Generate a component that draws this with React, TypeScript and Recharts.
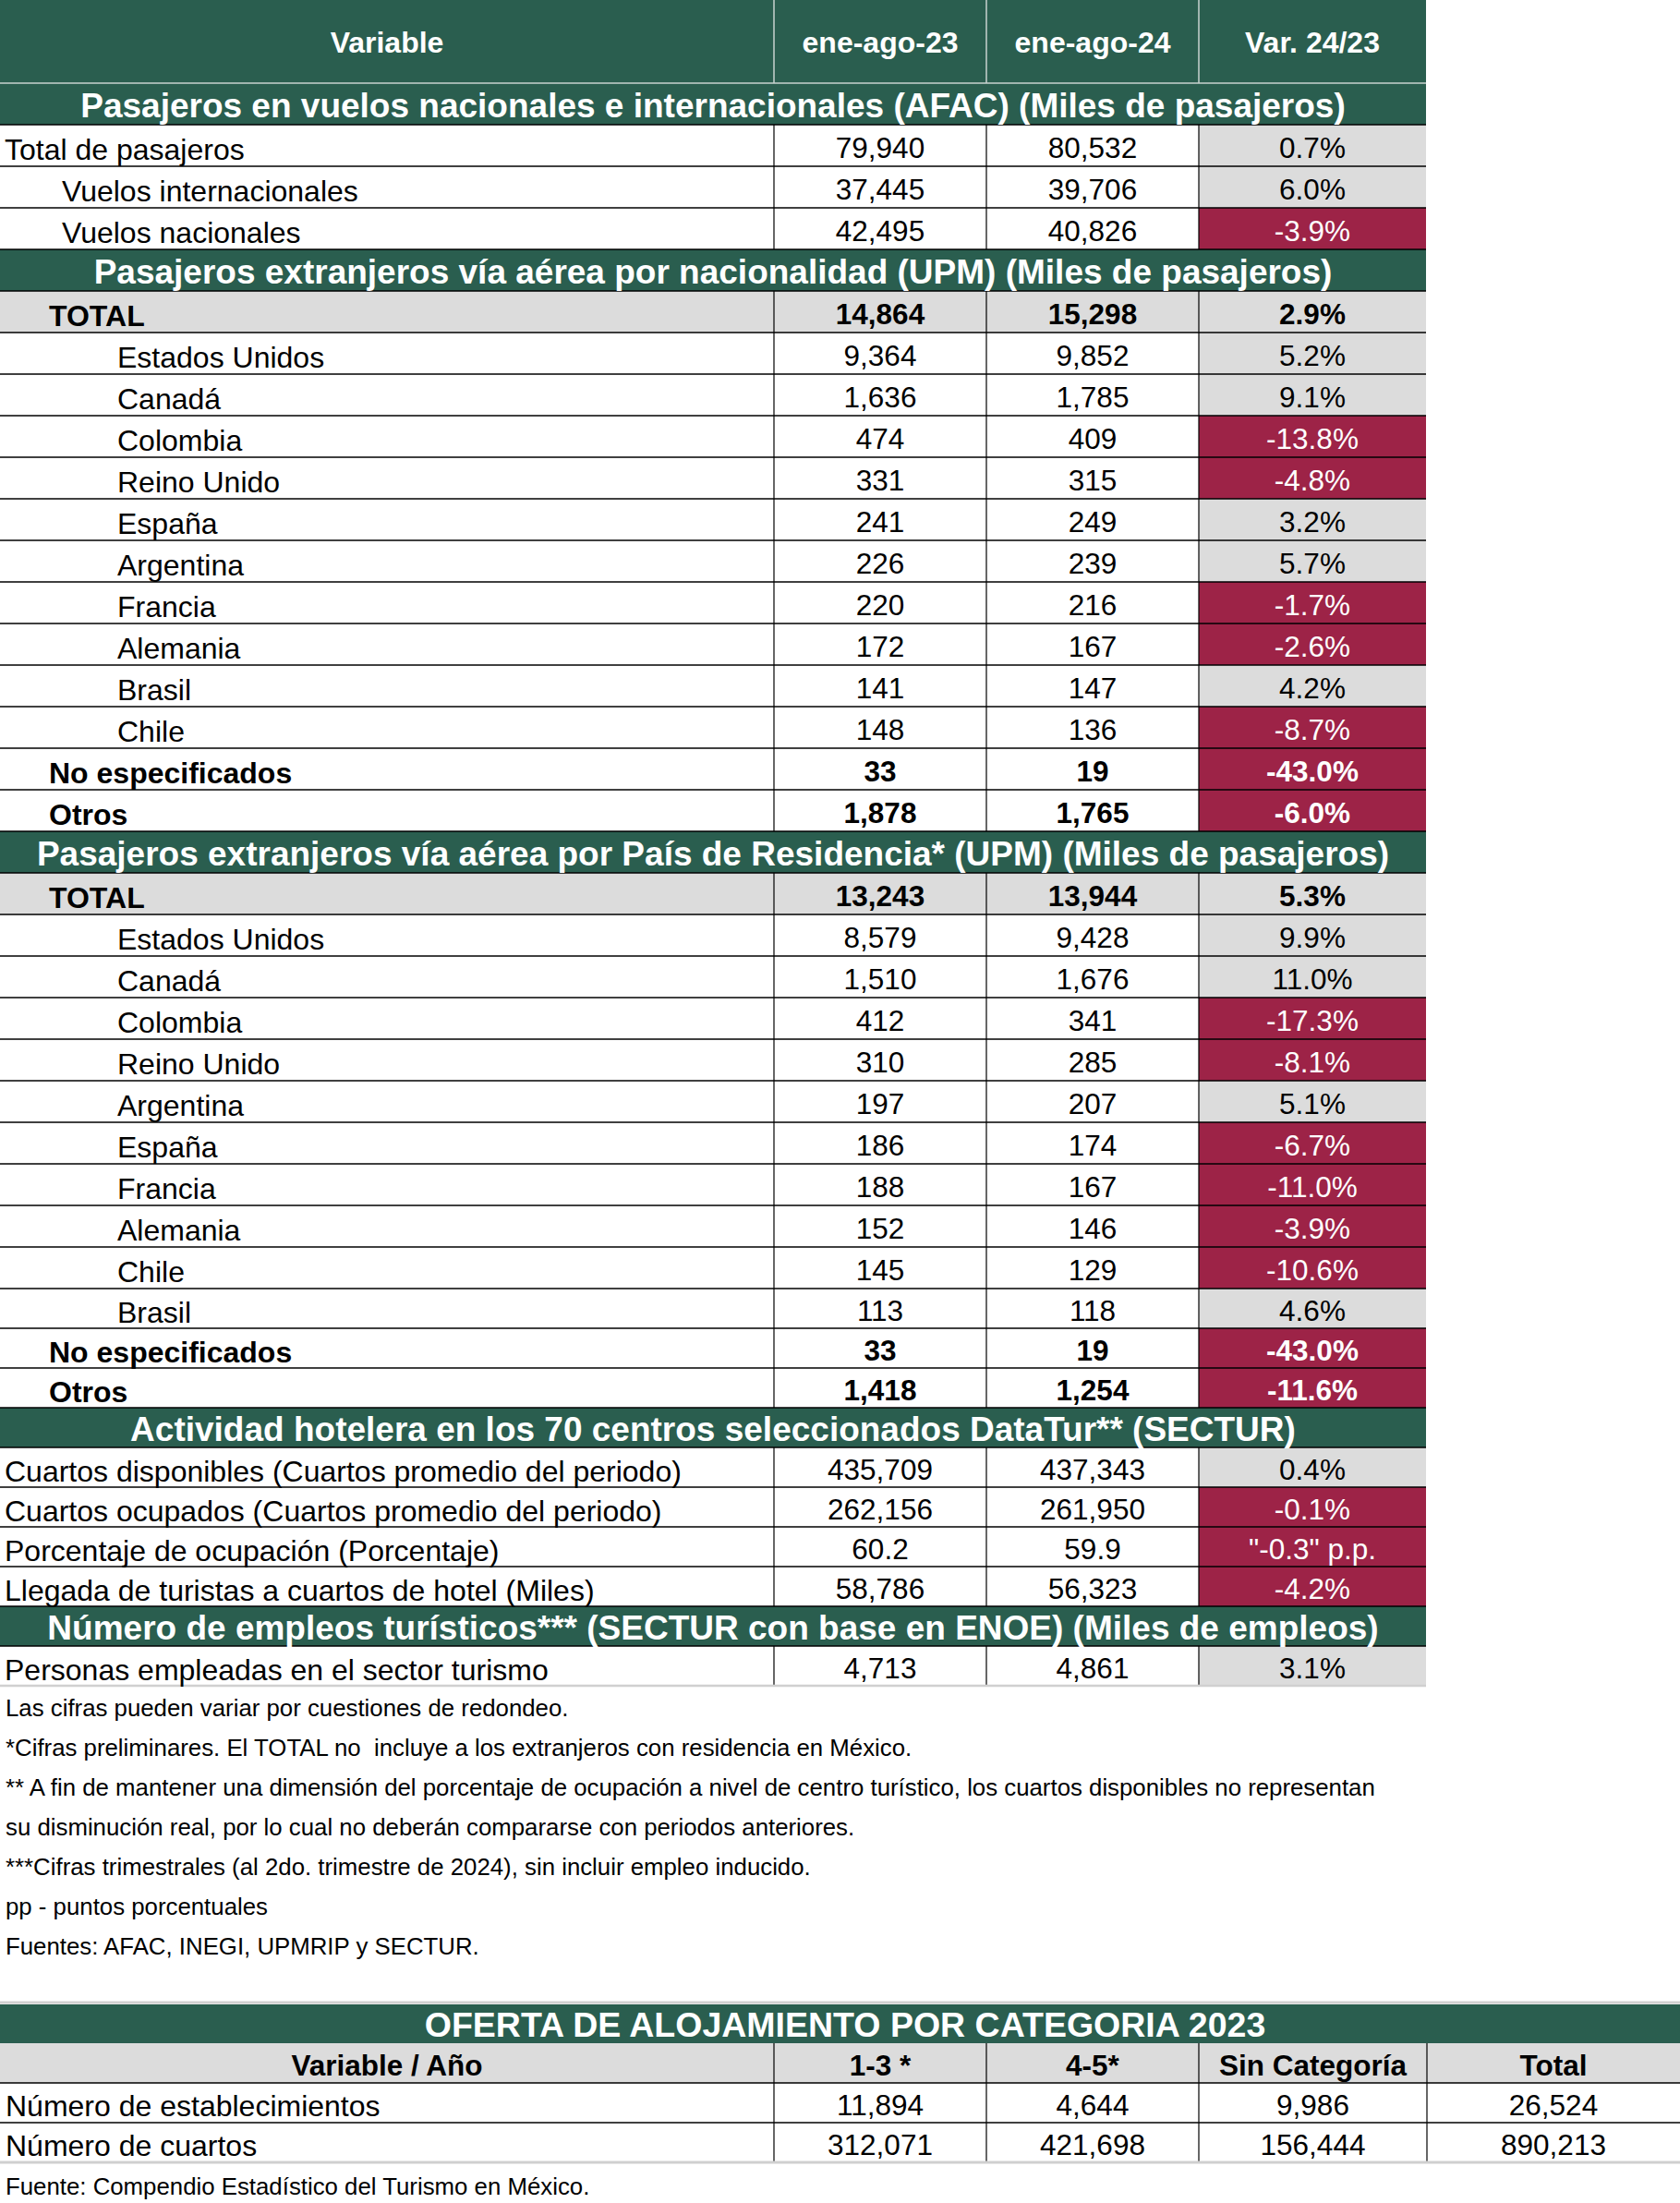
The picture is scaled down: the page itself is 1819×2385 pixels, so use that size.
import React from 'react';
import { Surface, Layer, Rectangle, Text } from 'recharts';

const GREEN = '#2A5E4F';
const RED = '#9D2347';
const GRAY = '#DCDCDC';
const FONT = '"Liberation Sans", Arial, sans-serif';

const headerLabels = ['Variable', 'ene-ago-23', 'ene-ago-24', 'Var. 24/23'];

const sec1Title = 'Pasajeros en vuelos nacionales e internacionales (AFAC) (Miles de pasajeros)';
const sec1Labels = ['Total de pasajeros', 'Vuelos internacionales', 'Vuelos nacionales'];
const sec1Y23 = [79940, 37445, 42495];
const sec1Y24 = [80532, 39706, 40826];
const sec1Var = [0.7, 6.0, -3.9];
const sec1Kind = ['l0', 'l1', 'l1'];

const sec2Title = 'Pasajeros extranjeros vía aérea por nacionalidad (UPM) (Miles de pasajeros)';
const sec2Labels = ['TOTAL', 'Estados Unidos', 'Canadá', 'Colombia', 'Reino Unido', 'España', 'Argentina', 'Francia', 'Alemania', 'Brasil', 'Chile', 'No especificados', 'Otros'];
const sec2Y23 = [14864, 9364, 1636, 474, 331, 241, 226, 220, 172, 141, 148, 33, 1878];
const sec2Y24 = [15298, 9852, 1785, 409, 315, 249, 239, 216, 167, 147, 136, 19, 1765];
const sec2Var = [2.9, 5.2, 9.1, -13.8, -4.8, 3.2, 5.7, -1.7, -2.6, 4.2, -8.7, -43.0, -6.0];

const sec3Title = 'Pasajeros extranjeros vía aérea por País de Residencia* (UPM) (Miles de pasajeros)';
const sec3Labels = ['TOTAL', 'Estados Unidos', 'Canadá', 'Colombia', 'Reino Unido', 'Argentina', 'España', 'Francia', 'Alemania', 'Chile', 'Brasil', 'No especificados', 'Otros'];
const sec3Y23 = [13243, 8579, 1510, 412, 310, 197, 186, 188, 152, 145, 113, 33, 1418];
const sec3Y24 = [13944, 9428, 1676, 341, 285, 207, 174, 167, 146, 129, 118, 19, 1254];
const sec3Var = [5.3, 9.9, 11.0, -17.3, -8.1, 5.1, -6.7, -11.0, -3.9, -10.6, 4.6, -43.0, -11.6];

const countryKind = ['total', 'l2', 'l2', 'l2', 'l2', 'l2', 'l2', 'l2', 'l2', 'l2', 'l2', 'bold', 'bold'];

const sec4Title = 'Actividad hotelera en los 70 centros seleccionados DataTur** (SECTUR)';
const sec4Labels = ['Cuartos disponibles (Cuartos promedio del periodo)', 'Cuartos ocupados (Cuartos promedio del periodo)', 'Porcentaje de ocupación (Porcentaje)', 'Llegada de turistas a cuartos de hotel (Miles)'];
const sec4Y23 = [435709, 262156, 60.2, 58786];
const sec4Y24 = [437343, 261950, 59.9, 56323];
const sec4Var = [0.4, -0.1, -0.3, -4.2];
const sec4Unit = ['%', '%', 'pp', '%'];

const sec5Title = 'Número de empleos turísticos*** (SECTUR con base en ENOE) (Miles de empleos)';
const sec5Labels = ['Personas empleadas en el sector turismo'];
const sec5Y23 = [4713];
const sec5Y24 = [4861];
const sec5Var = [3.1];

const footnotes = [
  'Las cifras pueden variar por cuestiones de redondeo.',
  '*Cifras preliminares. El TOTAL no  incluye a los extranjeros con residencia en México.',
  '** A fin de mantener una dimensión del porcentaje de ocupación a nivel de centro turístico, los cuartos disponibles no representan',
  'su disminución real, por lo cual no deberán compararse con periodos anteriores.',
  '***Cifras trimestrales (al 2do. trimestre de 2024), sin incluir empleo inducido.',
  'pp - puntos porcentuales',
  'Fuentes: AFAC, INEGI, UPMRIP y SECTUR.',
];

const ofertaTitle = 'OFERTA DE ALOJAMIENTO POR CATEGORIA 2023';
const ofertaHeaders = ['Variable / Año', '1-3 *', '4-5*', 'Sin Categoría', 'Total'];
const ofertaLabels = ['Número de establecimientos', 'Número de cuartos'];
const oferta13 = [11894, 312071];
const oferta45 = [4644, 421698];
const ofertaSin = [9986, 156444];
const ofertaTotal = [26524, 890213];
const ofertaSource = 'Fuente: Compendio Estadístico del Turismo en México.';

// layout
const W = 1819;
const H = 2385;
const TW = 1544;
const COLS = [0, 838, 1068, 1298, TW];
const OCOLS = [0, 838, 1068, 1298, 1545, W];
const INDENT: Record<string, number> = { l0: 5, l1: 67, l2: 127, total: 53, bold: 53 };
const LABEL_FS = 32;
const DATA_FS = 31.5;
const TITLE_FS = 37;
const NOTE_FS = 25.8;

const fmtNum = (n: number) => (Number.isInteger(n) ? n.toLocaleString('en-US') : n.toFixed(1));
const fmtVar = (v: number, unit = '%') => (unit === 'pp' ? `"${v.toFixed(1)}" p.p.` : `${v.toFixed(1)}%`);
const keepSpaces = (s: string) => s.replace(/ {2}/g, '\u00A0 ');

type Row =
  | { type: 'band'; title: string }
  | { type: 'data'; kind: string; label: string; a: number; b: number; v: number; unit: string };

function buildRows(): Row[] {
  const rows: Row[] = [];
  const addSec = (title: string, labels: string[], a: number[], b: number[], v: number[], kinds: string[], units?: string[]) => {
    rows.push({ type: 'band', title });
    labels.forEach((l, i) =>
      rows.push({ type: 'data', kind: kinds[i], label: l, a: a[i], b: b[i], v: v[i], unit: units ? units[i] : '%' })
    );
  };
  addSec(sec1Title, sec1Labels, sec1Y23, sec1Y24, sec1Var, sec1Kind);
  addSec(sec2Title, sec2Labels, sec2Y23, sec2Y24, sec2Var, countryKind);
  addSec(sec3Title, sec3Labels, sec3Y23, sec3Y24, sec3Var, countryKind);
  addSec(sec4Title, sec4Labels, sec4Y23, sec4Y24, sec4Var, sec4Labels.map(() => 'l0'), sec4Unit);
  addSec(sec5Title, sec5Labels, sec5Y23, sec5Y24, sec5Var, ['l0']);
  return rows;
}

const T = (props: any) => <Text fontFamily={FONT} verticalAnchor="middle" {...props} />;

export default function App() {
  const rows = buildRows();
  const fills: React.ReactNode[] = [];
  const lines: React.ReactNode[] = [];
  const texts: React.ReactNode[] = [];
  const HEADER_H = 90;

  // header
  fills.push(<Rectangle key="hdr" x={0} y={0} width={TW} height={HEADER_H} fill={GREEN} />);
  headerLabels.forEach((h, i) => {
    texts.push(
      <T key={'h' + i} x={(COLS[i] + COLS[i + 1]) / 2} y={HEADER_H / 2 + 1} textAnchor="middle" fontSize={32} fontWeight="bold" fill="#fff">
        {h}
      </T>
    );
    if (i > 0) lines.push(<line key={'hl' + i} x1={COLS[i]} x2={COLS[i]} y1={0} y2={HEADER_H} stroke="#C9D3CF" strokeWidth={1.5} />);
  });
  lines.push(<line key="hb" x1={0} x2={TW} y1={HEADER_H} y2={HEADER_H} stroke="#C9D3CF" strokeWidth={1.5} />);

  let y = HEADER_H;
  rows.forEach((r, idx) => {
    const h = idx < 29 ? 45 : 43;
    const cy = y + h / 2;
    if (r.type === 'band') {
      fills.push(<Rectangle key={'b' + idx} x={0} y={y} width={TW} height={h} fill={GREEN} />);
      texts.push(
        <T key={'bt' + idx} x={TW / 2} y={cy + 1} textAnchor="middle" fontSize={TITLE_FS} fontWeight="bold" fill="#fff">
          {r.title}
        </T>
      );
      if (idx > 0) lines.push(<line key={'bl' + idx} x1={0} x2={TW} y1={y} y2={y} stroke="#000" strokeWidth={1.5} />);
    } else {
      const bold = r.kind === 'total' || r.kind === 'bold';
      if (r.kind === 'total') fills.push(<Rectangle key={'tf' + idx} x={0} y={y} width={TW} height={h} fill={GRAY} />);
      const neg = r.v < 0;
      fills.push(<Rectangle key={'vf' + idx} x={COLS[3]} y={y} width={COLS[4] - COLS[3]} height={h} fill={neg ? RED : GRAY} />);
      const w = bold ? 'bold' : 'normal';
      texts.push(
        <T key={'l' + idx} x={INDENT[r.kind]} y={cy + 4} textAnchor="start" fontSize={LABEL_FS} fontWeight={w} fill="#000">
          {r.label}
        </T>
      );
      texts.push(
        <T key={'a' + idx} x={(COLS[1] + COLS[2]) / 2} y={cy + 2} textAnchor="middle" fontSize={DATA_FS} fontWeight={w} fill="#000">
          {fmtNum(r.a)}
        </T>
      );
      texts.push(
        <T key={'c' + idx} x={(COLS[2] + COLS[3]) / 2} y={cy + 2} textAnchor="middle" fontSize={DATA_FS} fontWeight={w} fill="#000">
          {fmtNum(r.b)}
        </T>
      );
      texts.push(
        <T key={'v' + idx} x={(COLS[3] + COLS[4]) / 2} y={cy + 2} textAnchor="middle" fontSize={DATA_FS} fontWeight={w} fill={neg ? '#fff' : '#000'}>
          {fmtVar(r.v, r.unit)}
        </T>
      );
      [1, 2, 3].forEach((c) =>
        lines.push(<line key={'vl' + idx + '-' + c} x1={COLS[c]} x2={COLS[c]} y1={y} y2={y + h} stroke="#000" strokeWidth={1.2} />)
      );
      lines.push(<line key={'rl' + idx} x1={0} x2={TW} y1={y} y2={y} stroke="#000" strokeWidth={1.5} />);
    }
    y += h;
  });
  lines.push(<line key="tb" x1={0} x2={TW} y1={y} y2={y} stroke="#D0D0D0" strokeWidth={2.5} />);

  // footnotes
  footnotes.forEach((f, i) =>
    texts.push(
      <T key={'f' + i} x={6} y={y + 24 + i * 43} textAnchor="start" fontSize={NOTE_FS} fill="#000">
        {keepSpaces(f)}
      </T>
    )
  );

  // oferta table
  const oy = 2168;
  lines.push(<line key="ot" x1={0} x2={W} y1={oy} y2={oy} stroke="#D0D0D0" strokeWidth={3} />);
  fills.push(<Rectangle key="of" x={0} y={oy + 2} width={W} height={42} fill={GREEN} />);
  texts.push(
    <T key="otitle" x={915} y={oy + 24} textAnchor="middle" fontSize={37.5} fontWeight="bold" fill="#fff">
      {ofertaTitle}
    </T>
  );
  const hy = oy + 44;
  fills.push(<Rectangle key="ohf" x={0} y={hy} width={W} height={43} fill={GRAY} />);
  ofertaHeaders.forEach((hd, i) => {
    texts.push(
      <T key={'oh' + i} x={(OCOLS[i] + OCOLS[i + 1]) / 2} y={hy + 24} textAnchor="middle" fontSize={DATA_FS} fontWeight="bold" fill="#000">
        {hd}
      </T>
    );
  });
  const cols = [oferta13, oferta45, ofertaSin, ofertaTotal];
  ofertaLabels.forEach((lab, r) => {
    const ry = hy + 43 + r * 43;
    lines.push(<line key={'orl' + r} x1={0} x2={W} y1={ry} y2={ry} stroke="#000" strokeWidth={1.5} />);
    texts.push(
      <T key={'ol' + r} x={6} y={ry + 25} textAnchor="start" fontSize={LABEL_FS} fill="#000">
        {lab}
      </T>
    );
    cols.forEach((arr, c) =>
      texts.push(
        <T key={'ov' + r + '-' + c} x={(OCOLS[c + 1] + OCOLS[c + 2]) / 2} y={ry + 24} textAnchor="middle" fontSize={DATA_FS} fill="#000">
          {fmtNum(arr[r])}
        </T>
      )
    );
  });
  const oBottom = hy + 43 * 3;
  [1, 2, 3, 4].forEach((c) =>
    lines.push(<line key={'ovl' + c} x1={OCOLS[c]} x2={OCOLS[c]} y1={hy} y2={oBottom} stroke="#000" strokeWidth={1.2} />)
  );
  lines.push(<line key="obl" x1={0} x2={W} y1={oBottom} y2={oBottom} stroke="#D0D0D0" strokeWidth={3} />);
  texts.push(
    <T key="osrc" x={6} y={2367} textAnchor="start" fontSize={NOTE_FS} fill="#000">
      {ofertaSource}
    </T>
  );

  return (
    <div style={{ position: 'absolute', left: 0, top: 0, width: W, height: H, background: '#fff' }}>
      <Surface width={W} height={H}>
        <Layer>{fills}</Layer>
        <Layer>{lines}</Layer>
        <Layer>{texts}</Layer>
      </Surface>
    </div>
  );
}
